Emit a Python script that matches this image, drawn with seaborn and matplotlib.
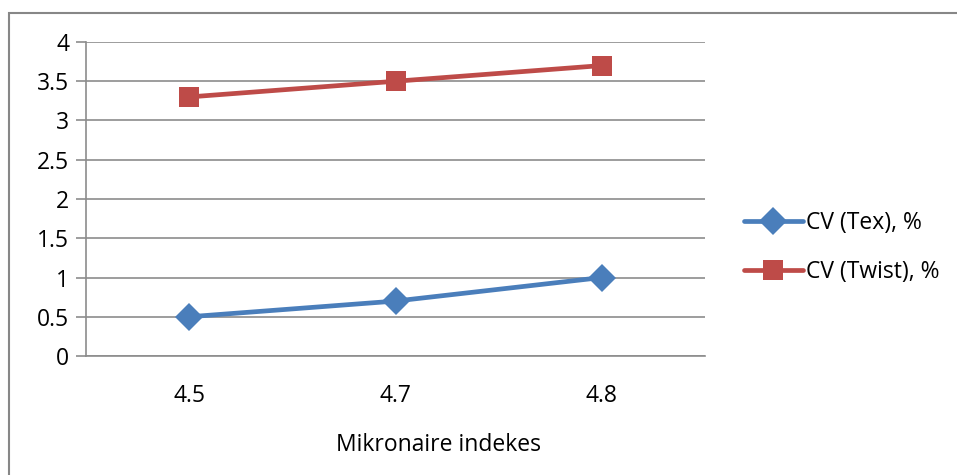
import matplotlib
matplotlib.use("Agg")
import matplotlib.pyplot as plt
import seaborn as sns
import pandas as pd
from matplotlib.patches import Rectangle
from matplotlib.ticker import FixedLocator

# data
mikronaire = ["4.5", "4.7", "4.8"]
cv_tex = [0.5, 0.7, 1.0]
cv_twist = [3.3, 3.5, 3.7]
series_names = ["CV (Tex), %", "CV (Twist), %"]

df = pd.DataFrame({
    "mik": mikronaire * 2,
    "val": cv_tex + cv_twist,
    "ser": [series_names[0]] * 3 + [series_names[1]] * 3,
})

sns.set_style("white")
plt.rcParams["font.family"] = ["Open Sans", "DejaVu Sans"]
plt.rcParams["text.color"] = "black"
plt.rcParams["xtick.color"] = "black"
plt.rcParams["ytick.color"] = "black"
plt.rcParams["axes.labelcolor"] = "black"

FS = 16.5

fig = plt.figure(figsize=(9.57, 4.75), dpi=100)
ax = fig.add_axes([0.0899, 0.2505, 0.7367 - 0.0899, 0.9116 - 0.2505])

# outer chart frame
fig.patches.append(Rectangle((0.009, -0.05), 1.2, 0.023 + 1.0, transform=fig.transFigure,
                             fill=False, edgecolor="#878787", linewidth=1.5))

pal = {series_names[0]: "#4A7EBB", series_names[1]: "#BE4B48"}
sns.lineplot(data=df, x="mik", y="val", hue="ser", style="ser", palette=pal,
             markers={series_names[0]: "D", series_names[1]: "s"},
             dashes=False, linewidth=3.4, markersize=14, markeredgewidth=0,
             sort=False, ax=ax)

ax.set_xlim(-0.5, 2.5)
ax.set_ylim(0, 4)
ax.set_yticks([i * 0.5 for i in range(9)])
ax.set_yticklabels(["0", "0.5", "1", "1.5", "2", "2.5", "3", "3.5", "4"])
ax.yaxis.grid(True, color="#8c8c8c", linewidth=1.2)
ax.xaxis.grid(False)
ax.set_axisbelow(True)

ax.set_xticks([0, 1, 2])
ax.set_xticklabels(mikronaire)
ax.xaxis.set_minor_locator(FixedLocator([-0.5, 0.5, 1.5, 2.5]))
ax.tick_params(axis="x", which="major", length=0, pad=20, labelsize=FS, labelcolor="black")
ax.tick_params(axis="x", which="minor", length=7, width=1.2, color="#8c8c8c", direction="out")
ax.tick_params(axis="y", length=7, width=1.2, color="#8c8c8c", direction="out", pad=5, labelsize=FS,
               left=True, labelcolor="black")

for s in ["top", "right"]:
    ax.spines[s].set_visible(False)
for s in ["left", "bottom"]:
    ax.spines[s].set_color("#8c8c8c")
    ax.spines[s].set_linewidth(1.2)

ax.set_xlabel("Mikronaire indekes", fontsize=FS, color="black")
ax.xaxis.set_label_coords(0.570, -0.245)
ax.set_ylabel("")

leg = ax.legend(loc="center left", bbox_to_anchor=(0.756, 0.479), bbox_transform=fig.transFigure,
                frameon=False, fontsize=FS, handlelength=2.55, labelspacing=1.1, handletextpad=0.15)
for t in leg.get_texts():
    t.set_color("black")

fig.savefig("out.png", dpi=100)
